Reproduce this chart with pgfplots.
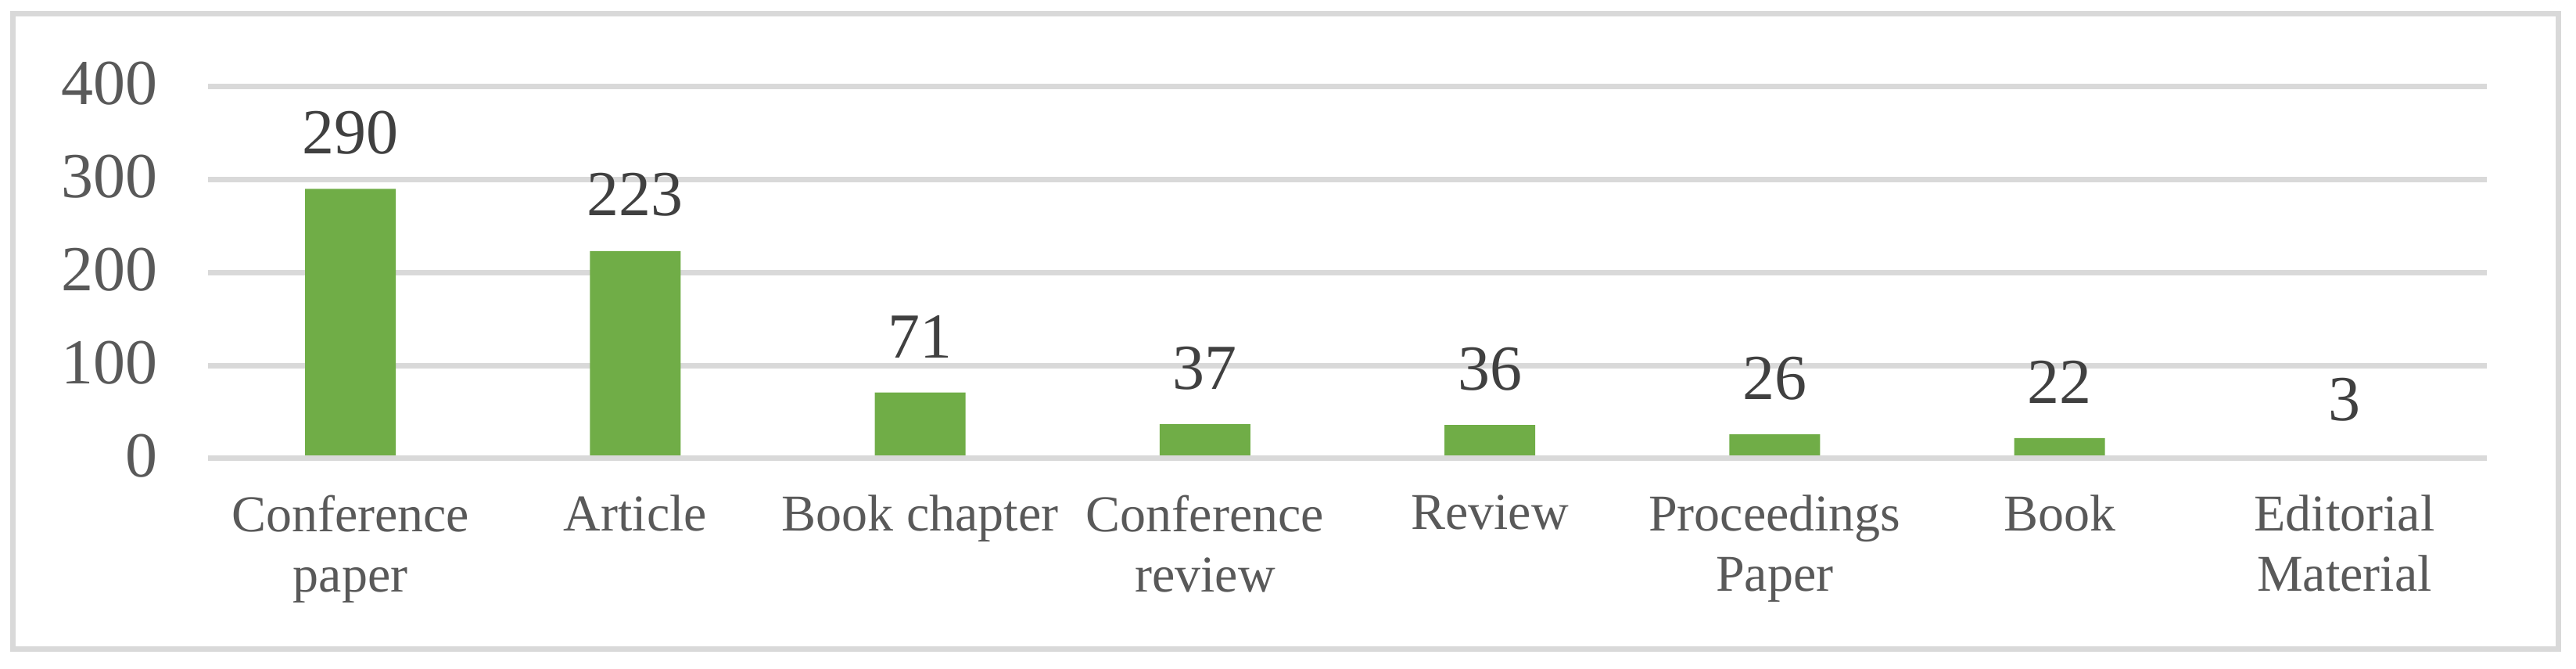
\documentclass[border=0pt]{standalone}
\usepackage{fontspec}
\setmainfont{Liberation Serif}
\usepackage{pgfplots}
\pgfplotsset{compat=1.18}
\definecolor{gridgray}{HTML}{D9D9D9}
\definecolor{bargreen}{HTML}{70AD47}
\definecolor{ticktext}{HTML}{595959}
\definecolor{datatext}{HTML}{404040}
\begin{document}
\begin{tikzpicture}
\useasboundingbox (0,0) rectangle (658.8pt,171pt);
\fill[white] (0,0) rectangle (658.8pt,171pt);
\draw[gridgray, line width=1.4pt] (3.2pt,5pt) rectangle (654.2pt,167.4pt);
\begin{axis}[
  at={(53.2pt,53.8pt)}, anchor=south west,
  scale only axis,
  width=582.8pt, height=95.1pt,
  xmin=-0.5, xmax=7.5,
  ymin=0, ymax=400,
  ytick={0,100,200,300,400},
  xtick={0,1,2,3,4,5,6,7},
  xticklabels={Conference\\paper, Article, Book chapter, Conference\\review, Review, Proceedings\\Paper, Book, Editorial\\Material},
  ybar, bar width=23.2pt,
  axis line style={draw=none},
  major tick length=0pt,
  ymajorgrids,
  grid style={gridgray, line width=1.4pt},
  /pgf/number format/assume math mode=true,
  yticklabel style={font=\fontsize{16.4}{19}\selectfont, text=ticktext, anchor=east, xshift=-9.3pt, yshift=0.7pt},
  xticklabel style={font=\fontsize{13.2}{15.4}\selectfont, text=ticktext, align=center, anchor=north, yshift=-5.9pt},
  nodes near coords,
  every node near coord/.append style={font=\fontsize{16.4}{19}\selectfont, text=datatext, yshift=5.3pt},
]
\addplot[fill=bargreen, draw=none] coordinates {(0,290) (1,223) (2,71) (3,37) (4,36) (5,26) (6,22) (7,3)};
\draw[gridgray, line width=1.4pt] (axis cs:-0.5,0) -- (axis cs:7.5,0);
\end{axis}
\end{tikzpicture}
\end{document}
